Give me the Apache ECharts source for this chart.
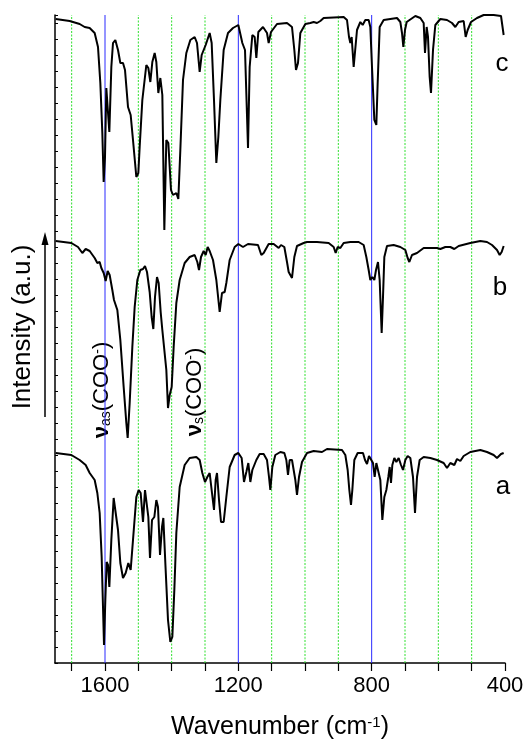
<!DOCTYPE html>
<html>
<head>
<meta charset="utf-8">
<script src="https://cdn.jsdelivr.net/npm/echarts@6/dist/echarts.min.js"></script>
<style>
  html, body { margin: 0; padding: 0; background: #fff; }
  #chart { width: 528px; height: 746px; }
</style>
</head>
<body>
<div id="chart"></div>
<script>
// IR spectra (wavenumber in cm-1, intensity in a.u. incl. vertical offset)
const waveA = [1748,1701,1676,1658,1646,1631,1623,1616,1610,1606,
  1603,1599,1595,1591,1587,1581,1574,1568,1561,1554,
  1546,1538,1530,1523,1516,1506,1499,1493,1486,1480,
  1474,1470,1465,1459,1452,1446,1441,1435,1429,1425,
  1419,1411,1404,1398,1392,1386,1376,1361,1346,1326,
  1316,1308,1300,1293,1286,1279,1273,1268,1264,1258,
  1252,1244,1236,1226,1211,1200,1190,1183,1176,1170,
  1164,1158,1152,1146,1136,1124,1114,1108,1104,1098,
  1089,1074,1062,1056,1051,1046,1039,1029,1024,1018,
  1009,994,974,949,934,889,879,872,867,862,
  858,852,842,826,820,814,808,802,796,791,
  786,780,774,768,762,756,750,746,742,738,
  732,726,719,712,706,699,692,684,676,670,
  664,656,644,624,604,584,574,564,552,544,
  534,524,504,474,454,434,424,412,404];
const intA = [210,208,203,198,190,183,170,150,106,56,
  18,63,101,98,76,123,165,163,133,100,
  85,90,100,93,123,166,173,170,141,173,
  175,146,105,143,146,163,156,108,136,145,
  100,43,21,26,73,130,176,198,205,206,
  203,190,181,186,190,170,153,183,190,163,
  141,141,166,196,208,210,205,181,191,200,
  181,193,191,203,209,209,203,186,173,196,
  208,211,210,203,188,203,203,183,168,186,
  201,210,212,211,214,213,208,193,173,158,
  173,203,210,210,203,199,207,205,200,186,
  200,201,183,143,166,173,186,196,180,198,
  205,201,205,198,193,203,207,205,186,150,
  186,203,206,205,203,200,195,200,198,204,
  202,207,211,213,211,208,205,209,210];

const waveB = [1748,1701,1681,1668,1658,1646,1631,1623,1616,1611,
  1604,1598,1592,1586,1578,1573,1568,1563,1554,1544,
  1536,1532,1526,1518,1511,1503,1494,1486,1480,1474,
  1466,1460,1455,1450,1444,1439,1433,1428,1422,1416,
  1411,1406,1400,1394,1386,1376,1361,1346,1331,1323,
  1318,1312,1304,1298,1292,1286,1276,1266,1256,1249,
  1241,1236,1226,1211,1200,1186,1171,1141,1131,1124,
  1109,1094,1079,1072,1062,1054,1049,1044,1039,1032,
  1024,1004,994,964,929,914,908,902,894,884,
  864,839,824,816,809,804,798,792,787,781,
  776,770,766,762,754,734,714,699,692,687,
  679,664,644,604,594,579,564,552,539,504,
  474,454,439,424,416,410,404];
const intB = [422,420,416,410,414,412,405,400,401,395,
  390,382,392,388,373,363,361,353,323,276,
  240,225,260,316,356,383,393,394,397,391,
  371,346,334,366,386,380,351,333,331,293,
  255,268,276,316,360,383,400,406,408,401,
  393,406,412,408,416,412,403,383,351,370,
  371,380,403,416,419,416,419,418,408,410,
  419,419,415,418,416,401,391,393,385,406,
  417,420,421,421,420,416,410,416,415,420,
  421,421,418,406,393,383,386,383,393,401,
  383,330,366,406,417,418,416,413,405,401,
  408,410,415,415,414,416,416,414,417,420,
  422,421,418,413,408,411,417];

const waveC = [1748,1706,1676,1661,1646,1631,1621,1614,1608,1604,
  1600,1596,1592,1587,1581,1576,1569,1561,1554,1546,
  1540,1531,1523,1516,1506,1500,1496,1488,1476,1470,
  1464,1458,1451,1446,1440,1434,1428,1422,1416,1410,
  1402,1396,1386,1380,1374,1366,1356,1344,1331,1324,
  1316,1310,1298,1286,1280,1273,1266,1260,1254,1244,
  1231,1216,1200,1194,1188,1180,1171,1166,1158,1151,
  1146,1140,1126,1114,1109,1102,1084,1054,1039,1032,
  1027,1021,1014,999,984,974,964,954,944,884,
  874,868,864,860,854,849,844,834,827,819,
  809,804,799,792,786,782,776,764,724,714,
  709,705,700,695,669,654,644,640,635,631,
  626,622,616,609,594,574,559,549,539,524,
  518,512,502,484,464,434,412,404];
const intC = [644,642,639,636,635,630,616,580,530,481,
  506,575,575,531,596,620,623,613,600,600,
  593,556,548,523,486,490,516,563,598,595,
  581,601,610,601,570,585,568,433,523,520,
  473,468,470,464,513,583,610,623,626,620,
  591,608,618,630,620,563,500,526,563,613,
  630,635,638,636,620,613,515,596,628,626,
  605,631,636,630,620,631,639,640,636,613,
  593,600,630,639,640,641,640,642,645,646,
  643,626,620,626,596,595,633,641,638,643,
  643,636,596,543,538,580,636,643,645,641,
  630,616,633,641,647,645,640,610,636,626,
  586,570,613,638,644,643,640,636,641,642,
  626,633,641,645,648,648,647,628];

const xTicks = [1700,1600,1500,1400,1300,1200,1100,1000,900,800,700,600,500,400];
const xLabels = [1600,1200,800,400];
const blueLines = [1600,1200,800];
const greenLines = [1700,1500,1400,1300,1100,1000,900,700,600,500];

const Y_MIN = 0;
const Y_MAX = 648;
const FONT = '"Liberation Sans", Arial, sans-serif';

function pairs(w, v) {
  return w.map((x, i) => [x, v[i]]);
}

function trace(name, w, v) {
  return {
    name: name,
    type: 'line',
    data: pairs(w, v),
    showSymbol: false,
    z: 3,
    lineStyle: { color: '#000', width: 2 },
    silent: true
  };
}

// full-height reference line at a given wavenumber
function refLine(v, color, type) {
  return {
    type: 'line',
    data: [[v, Y_MIN], [v, Y_MAX]],
    showSymbol: false,
    z: 1,
    silent: true,
    lineStyle: { color: color, width: 1, type: type }
  };
}

const chart = echarts.init(document.getElementById('chart'));

chart.setOption({
  backgroundColor: '#fff',
  animation: false,
  grid: { left: 55, right: 23, top: 15, bottom: 83 },
  xAxis: {
    type: 'value',
    inverse: true,
    min: 400,
    max: 1750,
    axisLine: { lineStyle: { color: '#000', width: 1.5 } },
    axisTick: { customValues: xTicks, length: 8, lineStyle: { color: '#000', width: 1.2 } },
    axisLabel: {
      customValues: xLabels, fontSize: 22, color: '#000', margin: 12, fontFamily: FONT,
      formatter: v => String(v)
    },
    splitLine: { show: false },
    name: 'Wavenumber (cm{sup|-1})',
    nameLocation: 'middle',
    nameGap: 52,
    nameTextStyle: {
      fontSize: 25, color: '#000', fontFamily: FONT,
      rich: { sup: { fontSize: 15, color: '#000', fontFamily: FONT, verticalAlign: 'top' } }
    }
  },
  yAxis: {
    type: 'value',
    min: Y_MIN,
    max: Y_MAX,
    interval: 16,
    axisLine: { show: true, lineStyle: { color: '#000', width: 1.5 } },
    axisTick: { show: true, inside: true, length: 3, lineStyle: { color: '#000' } },
    axisLabel: { show: false },
    splitLine: { show: false }
  },
  series: blueLines.map(v => refLine(v, '#2b2bff', 'solid'))
    .concat(greenLines.map(v => refLine(v, '#2ee02e', [2, 1.5])))
    .concat([
      trace('a', waveA, intA),
      trace('b', waveB, intB),
      trace('c', waveC, intC)
    ]),
  graphic: [
    { type: 'text', x: 23, y: 327, rotation: Math.PI / 2,
      style: { text: 'Intensity (a.u.)', fontSize: 26, fontFamily: FONT, fill: '#000', align: 'center', verticalAlign: 'middle' } },
    { type: 'line', shape: { x1: 45, y1: 417, x2: 45, y2: 242 }, style: { stroke: '#000', lineWidth: 1.5 } },
    { type: 'polygon', shape: { points: [[45, 232], [41.5, 245], [48.5, 245]] }, style: { fill: '#000' } },
    { type: 'text', x: 502, y: 64, style: { text: 'c', fontSize: 26, fontFamily: FONT, fill: '#000', align: 'center', verticalAlign: 'middle' } },
    { type: 'text', x: 500, y: 288, style: { text: 'b', fontSize: 26, fontFamily: FONT, fill: '#000', align: 'center', verticalAlign: 'middle' } },
    { type: 'text', x: 503, y: 487, style: { text: 'a', fontSize: 26, fontFamily: FONT, fill: '#000', align: 'center', verticalAlign: 'middle' } },
    { type: 'text', x: 102, y: 390, rotation: Math.PI / 2,
      style: {
        text: '{v|ν}{s|as}{n|(COO}{p|-}{n|)}', align: 'center', verticalAlign: 'middle',
        rich: {
          v: { fontSize: 22, fontWeight: 'bold', fontFamily: FONT, fill: '#000' },
          s: { fontSize: 14, fontFamily: FONT, fill: '#000', verticalAlign: 'bottom' },
          n: { fontSize: 22, fontFamily: FONT, fill: '#000' },
          p: { fontSize: 14, fontFamily: FONT, fill: '#000', verticalAlign: 'top' }
        }
      } },
    { type: 'text', x: 195, y: 392, rotation: Math.PI / 2,
      style: {
        text: '{v|ν}{s|s}{n|(COO}{p|-}{n|)}', align: 'center', verticalAlign: 'middle',
        rich: {
          v: { fontSize: 22, fontWeight: 'bold', fontFamily: FONT, fill: '#000' },
          s: { fontSize: 14, fontFamily: FONT, fill: '#000', verticalAlign: 'bottom' },
          n: { fontSize: 22, fontFamily: FONT, fill: '#000' },
          p: { fontSize: 14, fontFamily: FONT, fill: '#000', verticalAlign: 'top' }
        }
      } }
  ]
});
</script>
</body>
</html>
